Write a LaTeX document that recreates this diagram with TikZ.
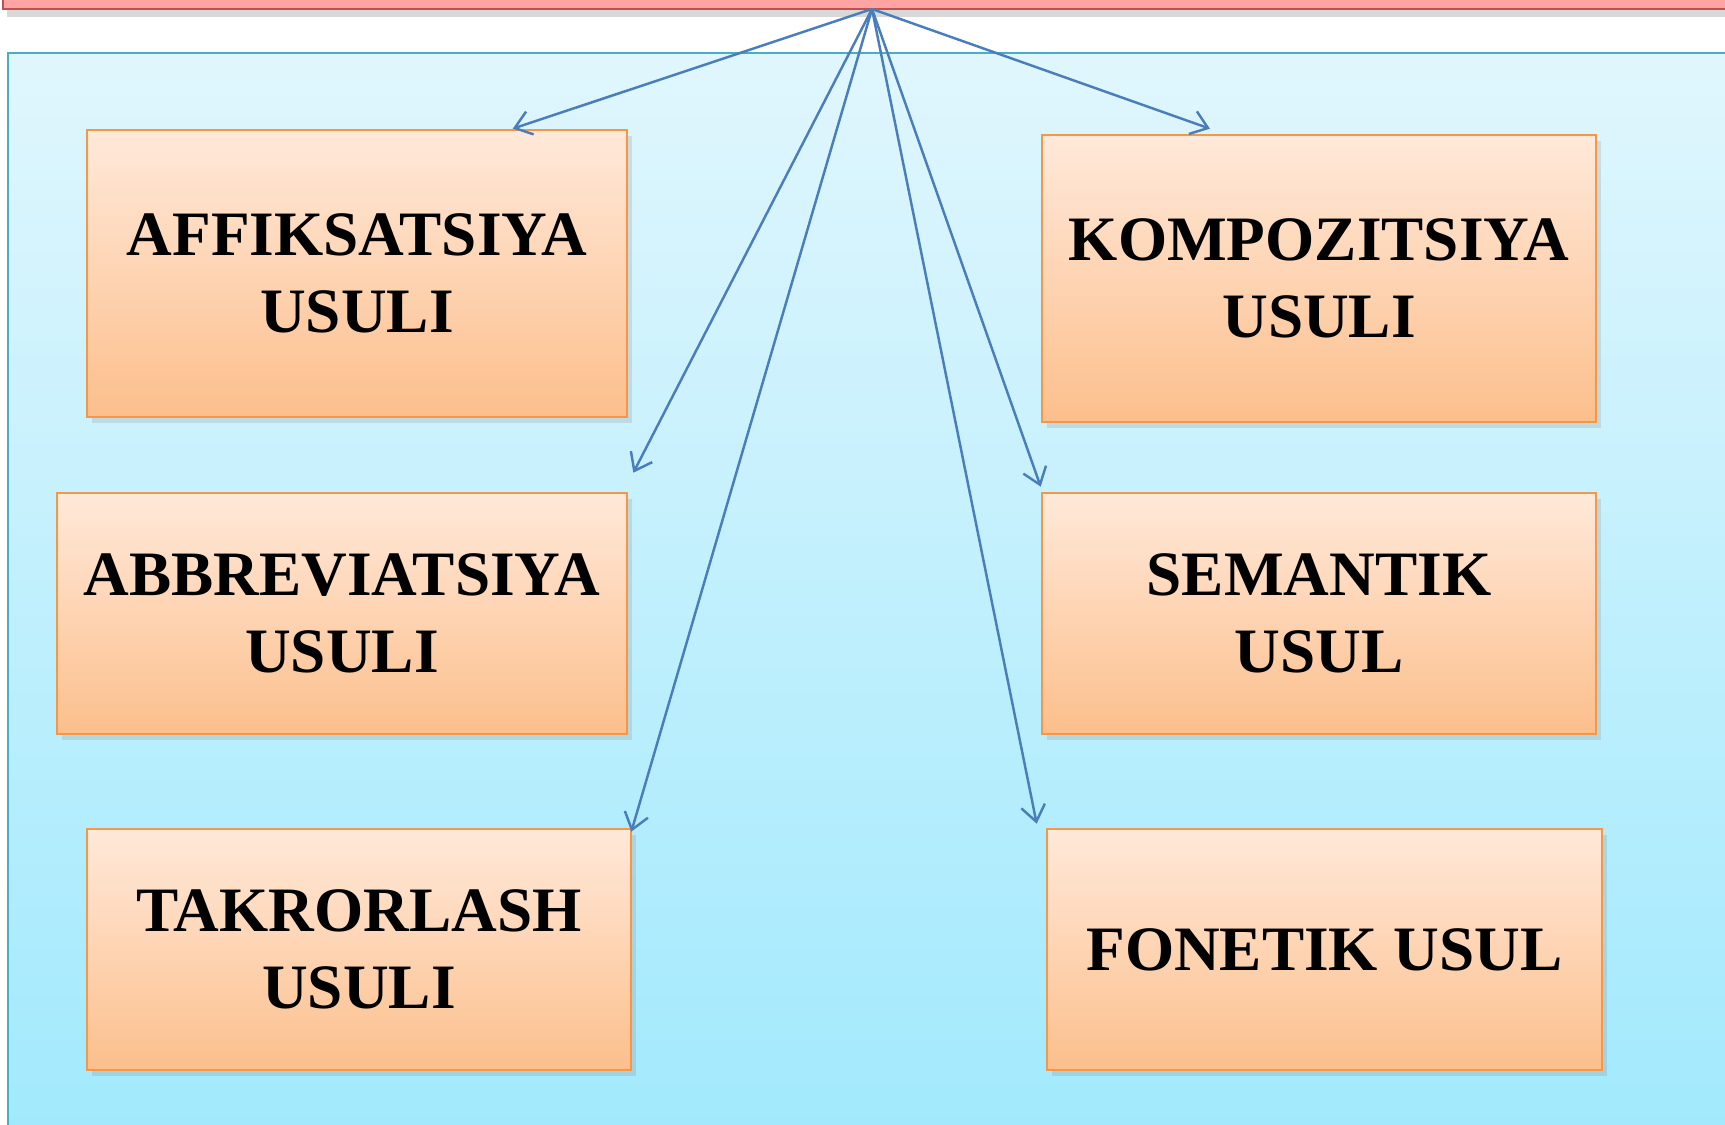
\documentclass[tikz,border=0pt]{standalone}
\usepackage{fontspec}
\setmainfont{Liberation Serif}
\usetikzlibrary{arrows.meta,shadows,calc}
\definecolor{barfill}{HTML}{FFA3A3}
\definecolor{barline}{HTML}{C0504D}
\definecolor{paneltop}{HTML}{E0F6FD}
\definecolor{panelbot}{HTML}{A0E9FD}
\definecolor{panelline}{HTML}{4BACC6}
\definecolor{boxtop}{HTML}{FFE9DA}
\definecolor{boxbot}{HTML}{FCBF8C}
\definecolor{boxline}{HTML}{F79646}
\definecolor{arrowblue}{HTML}{4A7EBB}
\tikzset{
  usulbox/.style={draw=boxline,line width=0.75pt,top color=boxtop,bottom color=boxbot,
    drop shadow={shadow xshift=0.5mm,shadow yshift=-0.6mm,opacity=0.2},
    align=center,inner sep=0pt,font=\fontsize{18}{22}\selectfont\bfseries},
  link/.style={draw=arrowblue,line width=0.7pt,-{Straight Barb[length=1.6mm,width=2.4mm]}}
}
\begin{document}
\begin{tikzpicture}[x=0.1mm,y=-0.1mm]
    \useasboundingbox (0,0) rectangle (1725,1124);
    %% background
    \fill[white] (0,0) rectangle (1725,1124);
    \begin{scope}
        \clip (0,0) rectangle (1725,1124);
        \draw[panelline,line width=0.5pt,top color=paneltop,bottom color=panelbot] (8,53) rectangle (1760,1160);
        \draw[barline,line width=0.8pt,fill=barfill,drop shadow={shadow xshift=0.4mm,shadow yshift=-0.8mm,opacity=0.3}] (3,-30) rectangle (1760,9);
    \end{scope}
    \coordinate (top) at (872,9);
    %% methods
    \node[usulbox,minimum width=54mm,minimum height=28.7mm] (affiks) at (357,273.5) {AFFIKSATSIYA\\USULI};
    \node[usulbox,minimum width=55.4mm,minimum height=28.7mm] (kompoz) at (1319,278.5) {KOMPOZITSIYA\\USULI};
    \node[usulbox,minimum width=57mm,minimum height=24.1mm] (abbrev) at (342,613.5) {ABBREVIATSIYA\\USULI};
    \node[usulbox,minimum width=55.4mm,minimum height=24.1mm] (semantik) at (1319,613.5) {SEMANTIK\\USUL};
    \node[usulbox,minimum width=54.4mm,minimum height=24.1mm] (takror) at (359,949.5) {TAKRORLASH\\USULI};
    \node[usulbox,minimum width=55.5mm,minimum height=24.1mm] (fonetik) at (1324.5,949.5) {FONETIK USUL};
    %% arrows
    \draw[link] (top) -- ($(affiks.north west)!0.787!(affiks.north east)$);
    \draw[link] (top) -- ($(kompoz.north west)!0.304!(kompoz.north east)+(0,-5)$);
    \draw[link] (top) -- ($(abbrev.north east)+(5,-19)$);
    \draw[link] (top) -- ($(semantik.north west)+(0,-5)$);
    \draw[link] (top) -- ($(takror.north east)+(-1,4)$);
    \draw[link] (top) -- ($(fonetik.north west)+(-9,-4)$);
\end{tikzpicture}
\end{document}
